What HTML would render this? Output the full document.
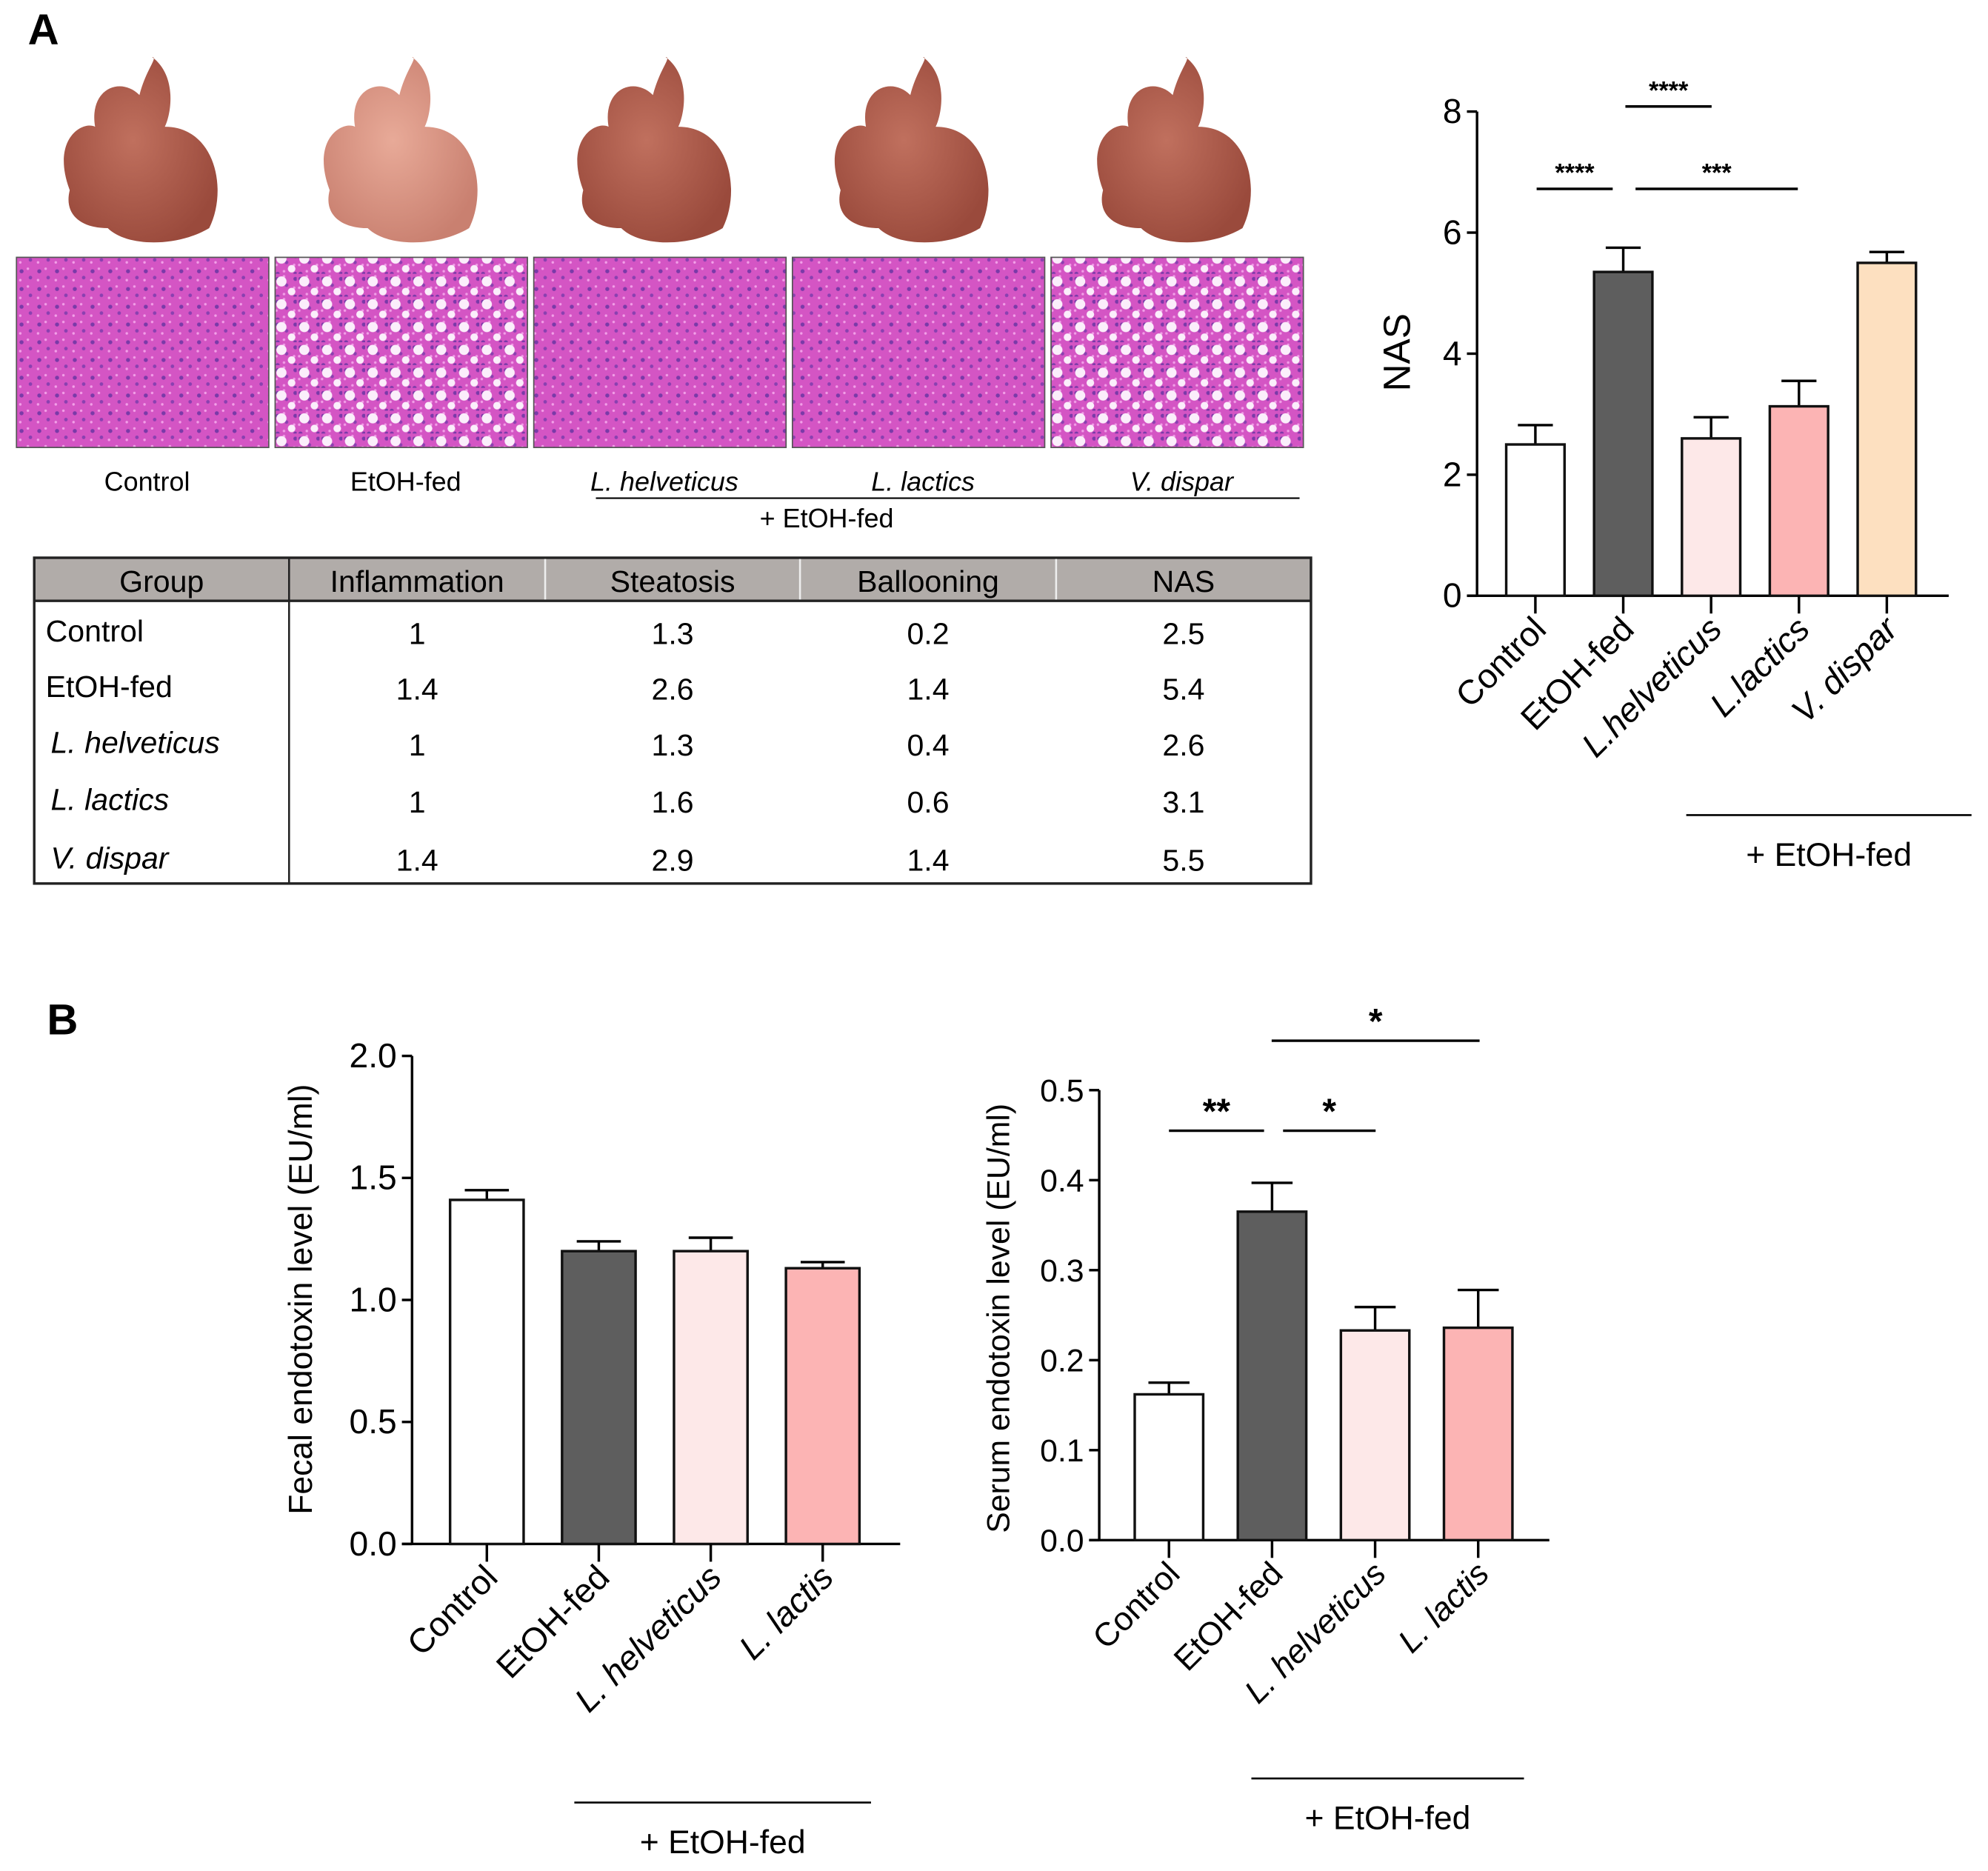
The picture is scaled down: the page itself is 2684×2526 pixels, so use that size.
<!DOCTYPE html>
<html><head><meta charset="utf-8"><style>
html,body{margin:0;padding:0;background:#fff;}
svg{display:block;}
text{font-family:"Liberation Sans",sans-serif;fill:#000;}
</style></head><body>
<svg id="fig" width="2684" height="2526" viewBox="0 0 1568 1476" preserveAspectRatio="none" xmlns="http://www.w3.org/2000/svg">
<defs>
<pattern id="he" width="14" height="14" patternUnits="userSpaceOnUse">
<rect width="14" height="14" fill="#d455c4"/>
<circle cx="3" cy="4" r="1.6" fill="#7a3aa8"/><circle cx="10" cy="9" r="1.4" fill="#8a40b0"/>
<circle cx="8" cy="2" r="1" fill="#f2a0e8"/><circle cx="2" cy="11" r="1" fill="#f2a0e8"/>
</pattern>
<pattern id="heFat" width="18" height="18" patternUnits="userSpaceOnUse">
<rect width="18" height="18" fill="url(#he)"/>
<circle cx="6" cy="6" r="4" fill="#fbeefb"/><circle cx="14" cy="14" r="3" fill="#fbeefb"/>
</pattern>
<radialGradient id="liv" cx="0.45" cy="0.45" r="0.6"><stop offset="0" stop-color="#c0705e"/><stop offset="1" stop-color="#9a4a3c"/></radialGradient>
<radialGradient id="livLight" cx="0.45" cy="0.45" r="0.6"><stop offset="0" stop-color="#e8aa98"/><stop offset="1" stop-color="#c98070"/></radialGradient>
</defs>
<text x="22" y="35" font-size="34" font-weight="bold">A</text>
<text x="37" y="816" font-size="34" font-weight="bold">B</text>
<g id="photos"></g>
<g id="table"></g>
<g id="nas"></g>
<g id="fecal"></g>
<g id="serum"></g>
</svg>
<script>
const NS='http://www.w3.org/2000/svg';
function mk(p,tag,attrs,txt){const e=document.createElementNS(NS,tag);for(const k in attrs)e.setAttribute(k,attrs[k]);if(txt!==undefined)e.textContent=txt;p.appendChild(e);return e;}

// ---------- Photos ----------
const groupNames=['Control','EtOH-fed','L. helveticus','L. lactics','V. dispar'];
const groupItalic=[false,false,true,true,true];
const photos=document.getElementById('photos');
const photoCx=[110,315,515,718,925];
const livFill=['url(#liv)','url(#livLight)','url(#liv)','url(#liv)','url(#liv)'];
for(let i=0;i<5;i++){
  const cx=photoCx[i];
  const g=mk(photos,'g',{});
  
  
  mk(g,'path',{d:`M${cx-55},${150} C${cx-70},${110} ${cx-45},${95} ${cx-35},${100} C${cx-40},${70} ${cx-15},${60} ${cx},${75} C${cx+5},${55} ${cx+15},${45} ${cx+10},${45} C${cx+30},${60} ${cx+25},${90} ${cx+20},${100} C${cx+60},${100} ${cx+70},${150} ${cx+55},${180} C${cx+30},${195} ${cx-10},${195} ${cx-25},${180} C${cx-45},${180} ${cx-60},${170} ${cx-55},${150}Z`,fill:livFill[i]});
  const h=mk(photos,'rect',{x:13+i*204,y:203,width:199,height:150,fill:(i==1||i==4)?'url(#heFat)':'url(#he)',stroke:'#555','stroke-width':1});
  
  
  const t=mk(photos,'text',{x:116+i*204,y:387,'font-size':21,'text-anchor':'middle','font-style':groupItalic[i]?'italic':'normal'},groupNames[i]);
  
  
}
mk(photos,'line',{x1:470,y1:393,x2:1025,y2:393,stroke:'#000','stroke-width':1.2});
const pe=mk(photos,'text',{x:652,y:416,'font-size':21,'text-anchor':'middle'},'+ EtOH-fed');



// ---------- Table ----------
const tableHeaders=['Group','Inflammation','Steatosis','Ballooning','NAS'];
const tableRows=[['Control','1','1.3','0.2','2.5'],['EtOH-fed','1.4','2.6','1.4','5.4'],['L. helveticus','1','1.3','0.4','2.6'],['L. lactics','1','1.6','0.6','3.1'],['V. dispar','1.4','2.9','1.4','5.5']];
const tb=document.getElementById('table');
const colX=[27,228,430,631,833,1034];
const rowY=[498,542,586,631,677];
mk(tb,'rect',{x:27,y:440,width:1007,height:34,fill:'#b1aca9'});
const tr=mk(tb,'rect',{x:27,y:440,width:1007,height:257,fill:'none',stroke:'#222','stroke-width':2});


mk(tb,'line',{x1:27,y1:474,x2:1034,y2:474,stroke:'#222','stroke-width':2});
mk(tb,'line',{x1:228,y1:440,x2:228,y2:697,stroke:'#222','stroke-width':1.5});
for(let c=2;c<5;c++)mk(tb,'line',{x1:colX[c],y1:441,x2:colX[c],y2:473,stroke:'#eee','stroke-width':1.5});
tableHeaders.forEach((h,c)=>{const t=mk(tb,'text',{x:(colX[c]+colX[c+1])/2,y:467,'font-size':24,'text-anchor':'middle'},h);

});
tableRows.forEach((r,ri)=>{r.forEach((v,c)=>{
  const a=c==0?{x:ri>=2?40:36,y:rowY[ri]+8,'font-size':24,'font-style':ri>=2?'italic':'normal'}:{x:(colX[c]+colX[c+1])/2,y:rowY[ri]+10,'font-size':24,'text-anchor':'middle','fill':'#222'};
  const t=mk(tb,'text',a,v);
  
  
});});

// ---------- Bar chart helper ----------
function barChart(g,o){
  const y=v=>o.y0-(v-o.vmin)/(o.vmax-o.vmin)*(o.y0-o.yTop);
  mk(g,'line',{x1:o.ax,y1:o.yTop,x2:o.ax,y2:o.y0,stroke:'#000','stroke-width':2});
  mk(g,'line',{x1:o.ax-8,y1:o.y0,x2:o.xEnd,y2:o.y0,stroke:'#000','stroke-width':2});
  o.ticks.forEach((tv,i)=>{mk(g,'line',{x1:o.ax-8,y1:y(tv),x2:o.ax,y2:y(tv),stroke:'#000','stroke-width':2});
    const t=mk(g,'text',{x:o.ax-12,y:y(tv)+9,'font-size':o.fs,'text-anchor':'end'},o.tickLabels[i]);
    
    });
  const yl=mk(g,'text',{x:o.ylx,y:o.yly,'font-size':o.yfs,'text-anchor':'middle',transform:`rotate(-90 ${o.ylx} ${o.yly})`},o.ylabel);
  
  
  o.values.forEach((v,i)=>{
    const cx=o.x0+i*o.step;
    mk(g,'line',{x1:cx,y1:y(v),x2:cx,y2:y(o.errs[i]),stroke:'#000','stroke-width':2});
    mk(g,'line',{x1:cx-o.bw*0.3,y1:y(o.errs[i]),x2:cx+o.bw*0.3,y2:y(o.errs[i]),stroke:'#000','stroke-width':2});
    const b=mk(g,'rect',{x:cx-o.bw/2,y:y(v),width:o.bw,height:o.y0-y(v),fill:o.colors[i],stroke:'#111','stroke-width':2});
    
    
    mk(g,'line',{x1:cx,y1:o.y0,x2:cx,y2:o.y0+14,stroke:'#000','stroke-width':2});
    const lx=cx+10,ly=o.y0+28;
    const t=mk(g,'text',{x:lx,y:ly,'font-size':o.xfs,'text-anchor':'end',transform:`rotate(-45 ${lx} ${ly})`,'font-style':o.italic[i]?'italic':'normal'},o.cats[i]);
    
    
  });
  (o.sig||[]).forEach(s=>{
    mk(g,'line',{x1:s[0],y1:s[2],x2:s[1],y2:s[2],stroke:'#000','stroke-width':2});
    const t=mk(g,'text',{x:(s[0]+s[1])/2,y:s[2]-6,'font-size':s[4],'text-anchor':'middle','font-weight':'bold'},s[3]);
    
    
  });
  mk(g,'line',{x1:o.gl[0],y1:o.gl[2],x2:o.gl[1],y2:o.gl[2],stroke:'#000','stroke-width':1.5});
  const gt=mk(g,'text',{x:(o.gl[0]+o.gl[1])/2,y:o.gl[2]+40,'font-size':26,'text-anchor':'middle'},'+ EtOH-fed');
  
  
}

// ---------- NAS data ----------
const nasCats=['Control','EtOH-fed','L.helveticus','L.lactics','V. dispar'];
const nasValues=[2.5,5.35,2.6,3.13,5.5];
const nasErrors=[2.82,5.75,2.95,3.55,5.68];
const nasTicks=[0,2,4,6,8];
const nasTickLabels=['0','2','4','6','8'];
barChart(document.getElementById('nas'),{ax:1165,y0:470,yTop:88,vmin:0,vmax:8,xEnd:1537,x0:1211,step:69.3,bw:46,
 values:nasValues,errs:nasErrors,cats:nasCats,italic:[false,false,true,true,true],
 colors:['#fff','#5e5e5e','#fde8e8','#fcb4b4','#fde0c0'],ticks:nasTicks,tickLabels:nasTickLabels,fs:27,xfs:27,
 ylabel:'NAS',ylx:1112,yly:278,yfs:30,
 sig:[[1212,1272,149,'****',20],[1282,1350,84,'****',20],[1290,1418,149,'***',20]],gl:[1330,1555,643]});

// ---------- Fecal data ----------
const fecalCats=['Control','EtOH-fed','L. helveticus','L. lactis'];
const fecalValues=[1.41,1.2,1.2,1.13];
const fecalErrors=[1.45,1.24,1.255,1.155];
const fecalTicks=[0,0.5,1,1.5,2];
const fecalTickLabels=['0.0','0.5','1.0','1.5','2.0'];
barChart(document.getElementById('fecal'),{ax:325,y0:1218,yTop:833,vmin:0,vmax:2,xEnd:710,x0:384,step:88.3,bw:58,
 values:fecalValues,errs:fecalErrors,cats:fecalCats,italic:[false,false,true,true],
 colors:['#fff','#5e5e5e','#fde8e8','#fcb4b4'],ticks:fecalTicks,tickLabels:fecalTickLabels,fs:27,xfs:27,
 ylabel:'Fecal endotoxin level (EU/ml)',ylx:246,yly:1025,yfs:26,sig:[],gl:[453,687,1422]});

// ---------- Serum data ----------
const serumCats=['Control','EtOH-fed','L. helveticus','L. lactis'];
const serumValues=[0.162,0.365,0.233,0.236];
const serumErrors=[0.175,0.397,0.259,0.278];
const serumTicks=[0,0.1,0.2,0.3,0.4,0.5];
const serumTickLabels=['0.0','0.1','0.2','0.3','0.4','0.5'];
barChart(document.getElementById('serum'),{ax:867,y0:1215,yTop:860,vmin:0,vmax:0.5,xEnd:1222,x0:922,step:81.3,bw:54,
 values:serumValues,errs:serumErrors,cats:serumCats,italic:[false,false,true,true],
 colors:['#fff','#5e5e5e','#fde8e8','#fcb4b4'],ticks:serumTicks,tickLabels:serumTickLabels,fs:25,xfs:26,
 ylabel:'Serum endotoxin level (EU/ml)',ylx:796,yly:1040,yfs:25,
 sig:[[922,997,892,'**',28],[1012,1085,892,'*',28],[1003,1167,821,'*',28]],gl:[987,1202,1403]});
</script>
</body></html>
